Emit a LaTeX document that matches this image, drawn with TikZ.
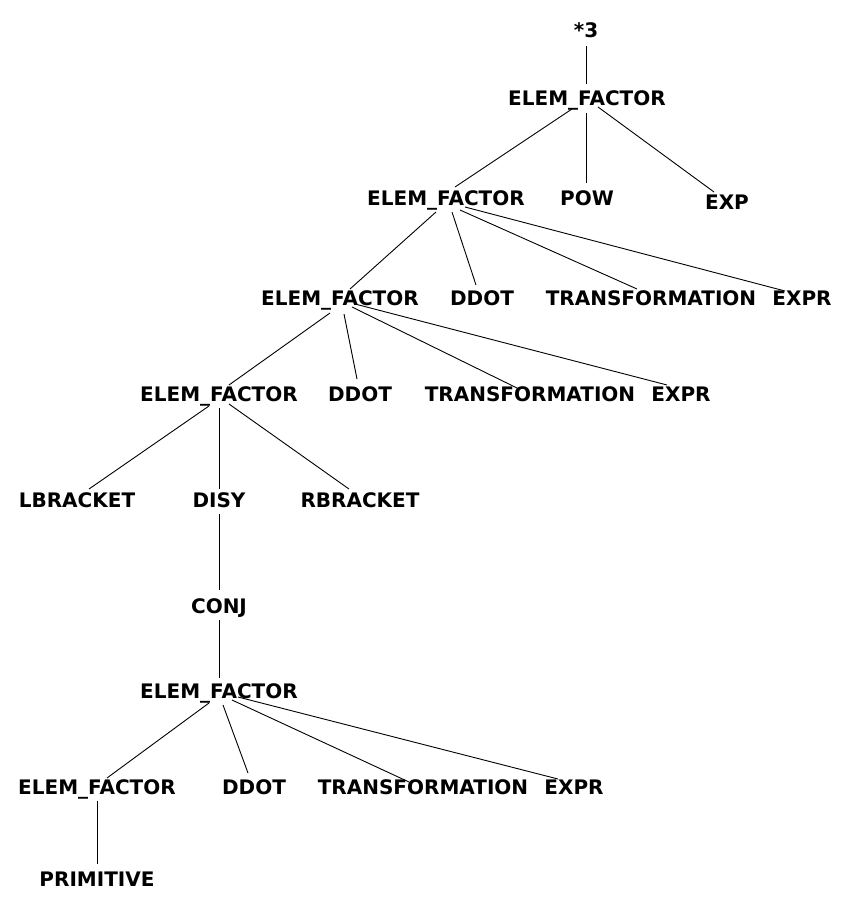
\documentclass[tikz,border=0pt]{standalone}
\usepackage{fontspec}
\setmainfont{DejaVu Sans}
\begin{document}
\begin{tikzpicture}[x=1pt,y=-1pt,
  lbl/.style={font=\fontsize{20}{22}\selectfont\bfseries, inner sep=0pt, text height=14.5pt, text depth=0pt, anchor=center},
  edge/.style={draw=black, line width=0.9pt}]
\useasboundingbox (0,0) rectangle (849,910);
\node[lbl] (star) at (586,30) {*3};
\node[lbl] (A) at (587,98) {ELEM\_FACTOR};
\node[lbl] (B) at (446,198) {ELEM\_FACTOR};
\node[lbl] (POW) at (587,198) {POW};
\node[lbl] (EXP) at (727,202) {EXP};
\node[lbl] (C) at (340,298) {ELEM\_FACTOR};
\node[lbl] (DD1) at (482,298) {DDOT};
\node[lbl] (TR1) at (651,298) {TRANSFORMATION};
\node[lbl] (EX1) at (802,298) {EXPR};
\node[lbl] (D) at (219,394) {ELEM\_FACTOR};
\node[lbl] (DD2) at (360,394) {DDOT};
\node[lbl] (TR2) at (530,394) {TRANSFORMATION};
\node[lbl] (EX2) at (681,394) {EXPR};
\node[lbl] (LB) at (77,500) {LBRACKET};
\node[lbl] (DISY) at (219,500) {DISY};
\node[lbl] (RB) at (360,500) {RBRACKET};
\node[lbl] (CONJ) at (219,606) {CONJ};
\node[lbl] (E) at (219,691) {ELEM\_FACTOR};
\node[lbl] (F) at (97,787) {ELEM\_FACTOR};
\node[lbl] (DD3) at (254,787) {DDOT};
\node[lbl] (TR3) at (423,787) {TRANSFORMATION};
\node[lbl] (EX3) at (574,787) {EXPR};
\node[lbl] (PRIM) at (97,879) {PRIMITIVE};
\newcommand{\edg}[6]{\draw[edge] ([shift={(#2,#3)}]#1.center) -- ([shift={(#5,#6)}]#4.center);}
\edg{star}{0}{16}{A}{-1}{-14}
\edg{A}{-15}{11}{B}{9}{-11}
\edg{A}{-1}{15}{POW}{-1}{-15}
\edg{A}{11}{9}{EXP}{-13}{-10}
\edg{B}{-10}{14}{C}{10}{-9}
\edg{B}{6}{14}{DD1}{-6}{-13}
\edg{B}{14}{12}{TR1}{-14}{-9}
\edg{B}{19}{9}{EX1}{-17}{-7}
\edg{C}{-10}{15}{D}{10}{-9}
\edg{C}{4}{16}{DD2}{-3}{-15}
\edg{C}{12}{9}{TR2}{-11}{-5}
\edg{C}{15}{6}{EX2}{-14}{-9}
\edg{D}{-10}{12}{LB}{12}{-11}
\edg{D}{0}{14}{DISY}{0}{-11}
\edg{D}{10}{10}{RB}{-11}{-11}
\edg{DISY}{0}{14}{CONJ}{0}{-16}
\edg{CONJ}{0}{14}{E}{0}{-13}
\edg{E}{-10}{12}{F}{10}{-9}
\edg{E}{4}{14}{DD3}{-6}{-14}
\edg{E}{13}{9}{TR3}{-14}{-5}
\edg{E}{19}{6}{EX3}{-16}{-8}
\edg{F}{0}{14}{PRIM}{0}{-15}
\end{tikzpicture}
\end{document}
